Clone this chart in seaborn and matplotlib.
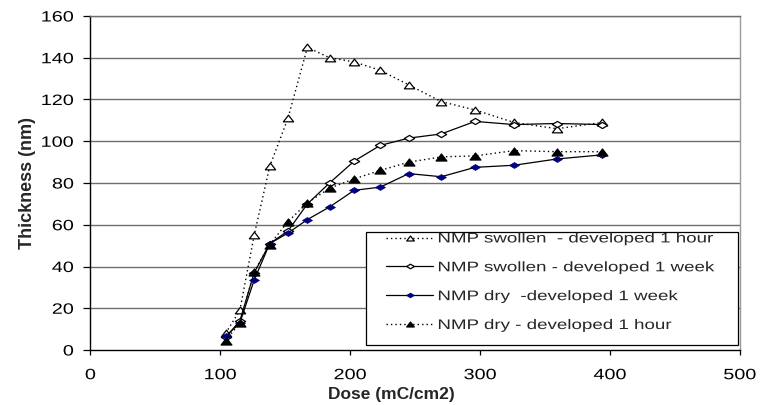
import matplotlib
matplotlib.use("Agg")
import matplotlib.pyplot as plt
from matplotlib import patheffects
from matplotlib.patches import Rectangle
from matplotlib.path import Path
from matplotlib.transforms import Affine2D
import seaborn as sns

# Electron dose (mC/cm2) shared by all four series
dose = [104, 115, 126, 138, 152, 167, 184, 203, 223, 245, 270, 296, 326, 359, 394]

# Film thickness (nm)
swollen_1h = [8, 19, 55, 88, 111, 145, 140, 138, 134, 127, 119, 115, 109, 106, 109]
swollen_1w = [6, 14, 37, 51, 57, 70, 80, 90.5, 98, 101.5, 103.5, 109.5, 108, 108.5, 108]
dry_1w = [6.5, 13, 33.5, 51, 56, 62.5, 68.5, 76.5, 78, 84.5, 83, 87.5, 88.5, 91.5, 93.5]
dry_1h = [4.5, 13, 37.5, 50.5, 61.5, 70.5, 77.5, 82, 86, 90, 92.5, 93, 95.5, 95, 95]

labels = [
    "NMP swollen  - developed 1 hour",
    "NMP swollen - developed 1 week",
    "NMP dry  -developed 1 week",
    "NMP dry - developed 1 hour",
]
x_ticks = [0, 100, 200, 300, 400, 500]
y_ticks = [0, 20, 40, 60, 80, 100, 120, 140, 160]


class WideText(patheffects.AbstractPathEffect):
    """Draw text glyphs widened horizontally around a chosen anchor."""

    def __init__(self, sx, anchor="center"):
        super().__init__()
        self.sx = sx
        self.anchor = anchor

    def draw_path(self, renderer, gc, tpath, affine, rgbFace=None):
        ext = tpath.get_extents()
        if self.anchor == "left":
            cx = 0.0
        elif self.anchor == "right":
            cx = ext.x1
        else:
            cx = 0.5 * (ext.x0 + ext.x1)
        widen = Affine2D().translate(-cx, 0).scale(self.sx, 1.0).translate(cx, 0)
        renderer.draw_path(gc, tpath, widen + affine, rgbFace)


def closed_marker(pts):
    return Path(pts + [pts[0]], closed=True)


# Wide, flat marker shapes
tri = closed_marker([(-1.0, -0.65), (1.0, -0.65), (0.0, 0.65)])
dia = closed_marker([(-1.0, 0.0), (0.0, 0.6), (1.0, 0.0), (0.0, -0.6)])

sns.set_theme(style="white")
plt.rcParams["font.family"] = ["Liberation Sans", "DejaVu Sans"]

fig = plt.figure(figsize=(7.65, 4.05), dpi=100)
ax = fig.add_axes([0.1183, 0.1358, 0.849, 0.8247])

dotted = (0, (1, 2.2))

sns.lineplot(x=dose, y=swollen_1h, ax=ax, sort=False, label=labels[0],
             color="black", linewidth=1.0, linestyle=dotted,
             marker=tri, markersize=7.4, markerfacecolor="white",
             markeredgecolor="black", markeredgewidth=0.9)
sns.lineplot(x=dose, y=swollen_1w, ax=ax, sort=False, label=labels[1],
             color="black", linewidth=0.9, linestyle="-",
             marker=dia, markersize=7.4, markerfacecolor="white",
             markeredgecolor="black", markeredgewidth=0.9)
sns.lineplot(x=dose, y=dry_1w, ax=ax, sort=False, label=labels[2],
             color="black", linewidth=0.9, linestyle="-",
             marker=dia, markersize=7.0, markerfacecolor="#000080",
             markeredgecolor="#000080", markeredgewidth=0.6)
sns.lineplot(x=dose, y=dry_1h, ax=ax, sort=False, label=labels[3],
             color="black", linewidth=1.0, linestyle=dotted,
             marker=tri, markersize=7.8, markerfacecolor="black",
             markeredgecolor="black", markeredgewidth=0.9)

ax.set_xlim(0, 500)
ax.set_ylim(0, 160)
ax.set_xticks(x_ticks)
ax.set_yticks(y_ticks)
ax.tick_params(axis="both", labelsize=10.8, colors="black", direction="out",
               width=0.9, left=True, bottom=True)
ax.tick_params(axis="y", length=5.0, pad=7.0)
ax.tick_params(axis="x", length=3.6, pad=9.5)

for t in ax.xaxis.get_major_ticks():
    t.label1.set_path_effects([WideText(1.32, "center")])
for t in ax.yaxis.get_major_ticks():
    t.label1.set_path_effects([WideText(1.32, "right")])

for yv in y_ticks[1:]:
    ax.axhline(yv, color="#6e6e6e", linewidth=1.0, zorder=0)

ax.spines["left"].set_color("black")
ax.spines["bottom"].set_color("black")
ax.spines["right"].set_color("#9a9a9a")
ax.spines["top"].set_color("#6e6e6e")
for s in ax.spines.values():
    s.set_linewidth(1.0)

ax.set_xlabel("Dose (mC/cm2)", fontsize=12.5, fontweight="bold")
ax.xaxis.set_label_coords(0.4627, -0.112)
ax.set_ylabel("Thickness (nm)", fontsize=13, fontweight="bold", labelpad=9)

# Legend entries without their own frame; the box is drawn separately
leg = ax.legend(loc="upper left", bbox_to_anchor=(0.455, 0.355),
                borderaxespad=0, borderpad=0, fontsize=10, frameon=False,
                handlelength=3.4, handletextpad=0.3, labelspacing=1.07)
for txt in leg.get_texts():
    txt.set_path_effects([WideText(1.35, "left")])
for h in leg.legend_handles:
    h.set_markersize(5.5)
leg.set_zorder(6)

ax.add_patch(Rectangle((0.4242, 0.015), 0.5727, 0.338, transform=ax.transAxes,
                       facecolor="white", edgecolor="black", linewidth=0.9,
                       zorder=5))

fig.savefig("out.png", dpi=100)
